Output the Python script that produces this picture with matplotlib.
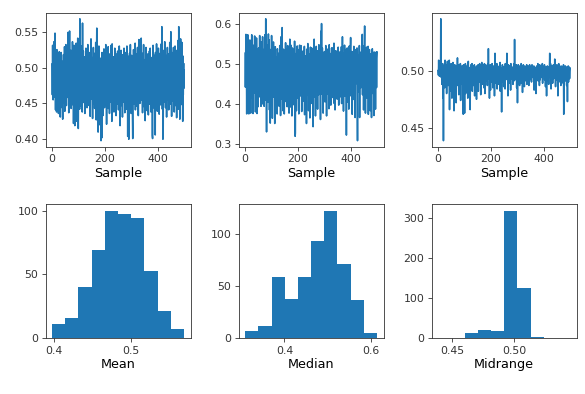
import numpy as np
import matplotlib
matplotlib.use("Agg")
import matplotlib.pyplot as plt

# ---- data (in thousandths) ----
mean_series = [
505,462,531,478,455,497,488,536,470,493,
459,548,482,441,512,476,503,438,525,467,
491,453,519,484,436,507,472,522,449,488,
513,431,496,468,521,457,483,509,444,478,
428,502,465,518,451,490,475,529,439,497,
483,456,532,470,447,511,489,462,526,474,
549,458,495,437,516,481,551,466,503,452,
487,524,443,499,471,515,460,536,484,448,
505,422,478,531,457,493,419,512,468,440,
497,534,461,486,425,519,473,541,450,415,
488,526,463,507,442,568,479,455,517,491,
446,530,472,500,438,562,484,459,523,467,
494,451,515,478,436,509,486,463,527,455,
481,518,444,497,469,532,458,490,474,512,
447,502,466,521,432,488,475,540,460,493,
514,456,483,429,506,471,528,449,490,465,
499,443,520,477,458,535,486,427,511,555,
468,494,441,516,410,489,462,530,451,482,
505,420,476,513,445,398,491,466,402,521,
470,499,433,508,455,487,526,461,444,495,
479,512,448,532,466,490,421,507,473,517,
457,485,529,443,502,468,519,436,494,476,
511,452,488,531,464,497,425,533,470,484,
446,515,479,503,438,492,461,527,455,489,
520,467,433,498,474,512,449,486,523,458,
496,441,508,477,530,455,484,419,514,469,
487,524,447,502,463,518,431,493,476,509,
452,488,527,465,499,437,513,480,458,521,
474,505,442,530,467,490,404,516,483,454,
400,498,471,520,445,486,532,461,509,436,
492,517,455,480,429,401,502,466,525,478,
449,510,487,463,534,441,496,472,519,458,
485,446,513,528,470,494,433,507,539,462,
538,477,450,499,522,466,488,541,455,491,
473,509,437,520,484,457,532,468,496,445,
511,479,426,502,465,528,453,487,515,440,
495,463,519,476,434,506,482,449,523,470,
488,527,455,499,438,514,461,492,473,405,
401,484,531,452,508,469,495,443,517,478,
406,521,464,490,447,533,476,502,439,511,
483,456,527,471,498,435,514,462,489,520,
448,505,479,533,458,557,486,442,510,400,
402,493,467,524,452,488,536,470,501,444,
517,462,495,431,509,478,528,455,490,466,
503,441,519,484,460,535,472,449,512,550,
476,497,432,521,466,489,514,453,481,528,
459,506,438,493,471,530,447,517,480,463,
498,430,524,474,509,456,485,538,442,557,
489,464,519,428,501,477,540,452,511,470,
493,535,448,482,425,516,462,497,471,505,
]

median_series = [
528,443,501,575,462,498,376,519,487,452,
574,401,509,468,376,532,495,447,561,483,
506,378,521,470,439,574,492,415,538,466,
377,512,485,548,428,503,571,459,496,381,
519,474,437,566,489,377,507,452,529,394,
483,541,418,500,463,572,436,511,479,522,
395,488,556,447,514,401,569,476,503,432,
537,462,395,518,481,574,448,505,614,410,
492,331,527,468,548,405,513,455,576,440,
498,561,386,520,476,353,537,463,509,428,
572,447,502,365,531,488,418,556,471,509,
437,525,352,494,544,460,508,389,519,481,
506,376,539,468,421,513,487,450,528,395,
478,547,433,501,372,520,569,456,492,413,
592,467,515,384,497,538,449,509,376,481,
523,441,489,554,407,512,473,538,460,394,
501,547,425,490,468,531,378,514,452,563,
393,509,476,548,432,497,520,371,488,541,
462,516,399,535,473,503,427,558,484,320,
328,495,451,527,384,509,472,546,415,491,
537,462,504,376,521,486,548,439,510,468,
421,547,478,503,382,529,455,497,533,408,
495,439,526,468,545,374,512,483,436,521,
467,509,352,538,478,499,423,552,461,507,
384,526,493,447,514,366,502,543,471,430,
518,459,541,402,496,475,530,344,509,486,
453,563,481,418,527,492,371,511,468,545,
502,437,516,479,388,534,461,507,424,549,
476,518,441,532,493,362,509,583,471,602,
487,425,541,466,503,378,529,454,514,491,
532,469,406,521,485,547,438,499,371,512,
464,538,497,425,528,476,511,389,549,483,
506,451,527,473,398,519,462,541,488,417,
541,479,506,432,524,467,553,402,498,472,
386,512,487,534,451,506,469,528,413,495,
524,462,543,479,398,517,488,452,531,473,
497,419,526,468,544,402,507,481,569,436,
512,475,383,529,491,461,548,420,503,478,
537,451,497,323,518,472,541,406,493,527,
468,513,388,502,546,459,479,421,538,567,
486,437,514,469,532,375,508,491,447,525,
473,545,412,498,528,466,367,519,485,537,
452,506,481,541,398,309,524,469,495,431,
518,482,547,367,503,476,529,441,511,489,
532,459,498,575,424,507,473,546,386,514,
478,527,596,451,504,378,532,469,491,543,
416,509,482,527,463,545,375,498,521,453,
537,471,510,384,526,492,448,514,367,502,
481,539,463,508,427,518,488,372,531,469,
509,452,527,388,496,474,531,442,515,531,
]

midrange_series = [
500,496,509,498,503,495,501,507,499,497,
545,502,494,505,488,500,497,506,476,501,
439,499,504,496,502,485,509,498,493,503,
497,505,480,501,496,508,494,499,487,502,
504,493,509,466,500,497,503,482,498,506,
495,501,476,504,498,492,507,485,500,496,
465,502,497,505,481,499,494,503,472,500,
498,504,493,511,487,501,496,505,479,499,
502,495,484,500,506,474,498,503,492,497,
504,488,499,496,501,462,505,493,498,486,
463,500,497,506,480,502,495,499,491,504,
497,503,476,500,508,494,498,485,502,496,
501,466,503,497,505,489,499,494,506,482,
498,504,493,500,487,502,496,505,478,499,
503,495,486,501,497,475,504,499,492,500,
496,505,482,498,503,490,500,506,494,497,
502,479,499,504,496,507,488,501,497,505,
499,494,503,485,500,506,497,480,502,498,
505,496,500,491,503,498,487,501,506,495,
519,499,493,504,476,500,497,505,483,501,
498,503,490,500,506,494,499,485,502,497,
504,496,501,478,500,515,495,503,489,499,
502,497,506,484,500,495,503,498,488,501,
496,504,493,500,507,482,499,502,495,498,
464,501,497,505,490,500,496,503,486,499,
503,495,500,484,506,498,492,501,497,504,
515,499,494,503,478,500,505,497,489,502,
498,504,496,500,483,506,499,493,502,497,
501,495,503,488,500,497,506,491,499,527,
500,496,504,492,501,498,505,485,499,503,
472,500,497,505,491,502,496,499,487,504,
498,503,494,500,506,489,501,497,503,481,
500,496,505,493,502,498,486,501,504,495,
499,503,491,500,497,505,488,502,496,499,
504,494,500,487,503,498,505,492,499,501,
496,503,498,490,501,505,494,500,497,503,
501,497,504,483,500,495,503,498,490,502,
480,501,496,504,493,500,498,506,491,499,
503,495,500,487,505,498,492,501,497,504,
499,502,494,500,506,489,501,497,503,495,
500,496,505,492,501,498,486,503,497,500,
478,501,497,504,491,500,495,503,488,502,
498,503,515,500,494,506,499,484,501,497,
504,495,500,489,503,498,505,493,500,502,
497,510,494,501,486,503,498,500,492,505,
500,496,503,478,501,497,506,490,499,502,
495,503,498,500,487,504,496,501,493,499,
503,497,500,489,505,462,498,501,494,502,
499,504,491,500,496,503,487,501,498,473,
502,496,504,490,500,497,503,493,499,502,
]

# histogram bar heights (10 bins over each series' range)
mean_counts = [11, 16, 40, 69, 100, 97, 94, 53, 21, 7]
median_counts = [7, 12, 59, 38, 59, 93, 122, 71, 37, 5]
midrange_counts = [1, 0, 14, 21, 17, 319, 126, 4, 0, 1]

labels = ["Mean", "Median", "Midrange"]

series = [np.array(s) / 1000.0 for s in (mean_series, median_series, midrange_series)]
counts = [mean_counts, median_counts, midrange_counts]

plt.rcParams['font.family'] = 'DejaVu Sans'
fig, axes = plt.subplots(2, 3, figsize=(5.85, 3.94), dpi=100)
fig.subplots_adjust(left=0.0778, right=0.9858, top=0.9678, bottom=0.1414,
                    wspace=0.33, hspace=0.428)

color = '#1f77b4'
for j in range(3):
    s = series[j]
    ax = axes[0, j]
    ax.plot(np.arange(len(s)), s, color=color, lw=1.15)
    ax.set_xlabel("Sample", fontsize=9.2, labelpad=2)
    ax.set_xticks([0, 200, 400])

    axh = axes[1, j]
    edges = np.linspace(s.min(), s.max(), 11)
    axh.hist(edges[:-1], bins=edges, weights=counts[j], color=color)
    axh.set_xlabel(labels[j], fontsize=9.2, labelpad=2)

axes[0, 2].set_yticks([0.45, 0.50])
axes[0, 2].set_yticklabels(["0.45", "0.50"])
axes[1, 2].set_xticks([0.45, 0.50])
axes[1, 2].set_xticklabels(["0.45", "0.50"])
axes[1, 1].set_xticks([0.4, 0.6])
axes[1, 0].set_xticks([0.4, 0.5])
axes[1, 0].set_yticks([0, 50, 100])
axes[1, 1].set_yticks([0, 50, 100])
axes[1, 2].set_yticks([0, 100, 200, 300])

for ax in axes.flat:
    ax.tick_params(labelsize=7.8, length=2.7, width=0.6, pad=2.5, colors='#333333', labelcolor='#333333')
    for sp in ax.spines.values():
        sp.set_linewidth(0.6)
        sp.set_color('#333333')

fig.savefig("out.png", dpi=100)
